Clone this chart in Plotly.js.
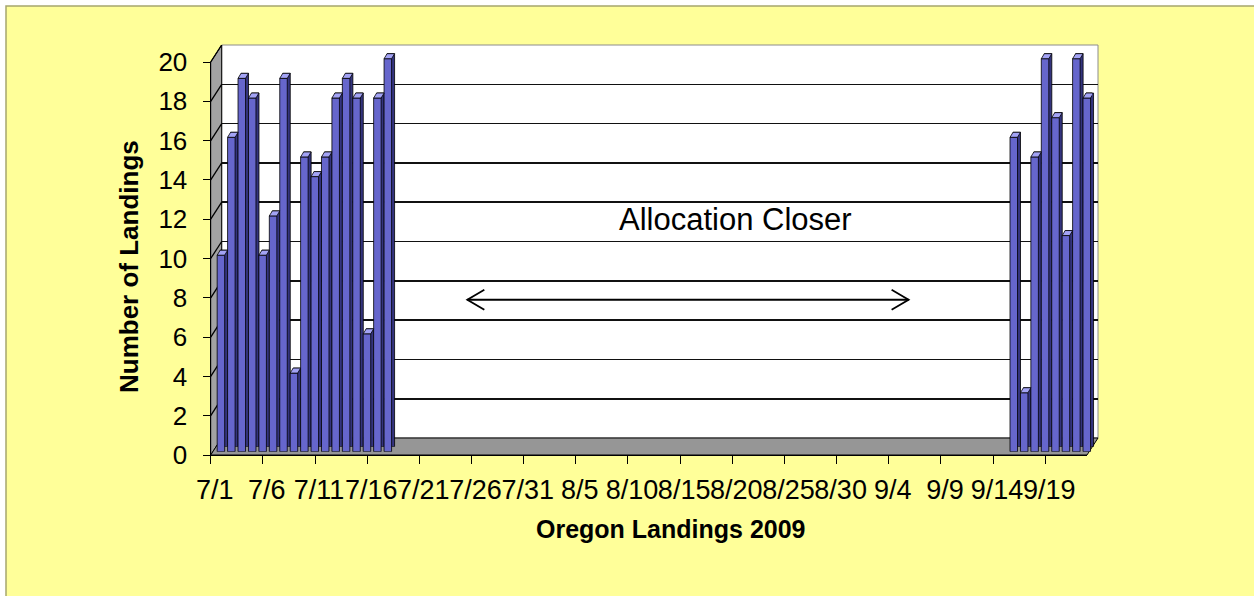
<!DOCTYPE html>
<html>
<head>
<meta charset="utf-8">
<script src="https://cdn.plot.ly/plotly-3.0.1.min.js"></script>
<style>
html,body{margin:0;padding:0;background:#ffffff;}
#chart{width:1254px;height:596px;}
</style>
</head>
<body>
<div id="chart"></div>
<script>
// ---------------- DATA ----------------
const dates = [
  "7/1","7/2","7/3","7/4","7/5","7/6","7/7","7/8","7/9","7/10",
  "7/11","7/12","7/13","7/14","7/15","7/16","7/17","7/18","7/19","7/20",
  "7/21","7/22","7/23","7/24","7/25","7/26","7/27","7/28","7/29","7/30","7/31",
  "8/1","8/2","8/3","8/4","8/5","8/6","8/7","8/8","8/9","8/10",
  "8/11","8/12","8/13","8/14","8/15","8/16","8/17","8/18","8/19","8/20",
  "8/21","8/22","8/23","8/24","8/25","8/26","8/27","8/28","8/29","8/30","8/31",
  "9/1","9/2","9/3","9/4","9/5","9/6","9/7","9/8","9/9","9/10",
  "9/11","9/12","9/13","9/14","9/15","9/16","9/17","9/18","9/19","9/20",
  "9/21","9/22"
];
const landings = [
  10,16,19,18,10,12,19,4,15,14,15,18,19,18,6,18,20,   // 7/1 - 7/17
  0,0,0,0,0,0,0,0,0,0,0,0,0,0,                        // 7/18 - 7/31
  0,0,0,0,0,0,0,0,0,0,0,0,0,0,0,0,0,0,0,0,0,0,0,0,0,0,0,0,0,0,0, // August
  0,0,0,0,0,0,0,0,0,0,0,0,0,0,                        // 9/1 - 9/14
  16,3,15,20,17,11,20,18                              // 9/15 - 9/22
];
const tickLabels = ["7/1","7/6","7/11","7/16","7/21","7/26","7/31","8/5","8/10",
  "8/15","8/20","8/25","8/30","9/4","9/9","9/14","9/19"];
const yTicks = [0,2,4,6,8,10,12,14,16,18,20];
const chartTitleX = "Oregon Landings 2009";
const chartTitleY = "Number of Landings";
const noteText = "Allocation Closer";

// ---------------- GEOMETRY (layout only) ----------------
const FIG_W = 1254, FIG_H = 596;
const L = 200, R = 1110, T = 30, B = 470;
const W = R - L, H = B - T;
const fx = p => (p - L) / W;
const fy = p => (B - p) / H;
const FX0 = 210.7, FX1 = 1087, FY0 = 455, FY1 = 62;   // front plane
const DX = 11, DY = 17;                               // chart depth
const BAR_DX = 5, BAR_DY = 3.3;                       // bar front face offset
const SIDE_DX = 3, SIDE_DY = 5;                       // bar depth
const YMAX = yTicks[yTicks.length - 1];
const PPU = (FY0 - FY1) / YMAX;                       // pixels per unit
const BAR_YMAX = 21;
const BAR_W = 0.72;
const CAT_PX = (FX1 - FX0) / dates.length;
const HW = BAR_W * CAT_PX / 2;
const FONT = "'Liberation Sans', Arial, sans-serif";

const xRange = [-0.5, dates.length - 0.5];
const tickVals = tickLabels.map(t => dates.indexOf(t) - 0.5);
// days without landings are drawn as empty (no bar)
const barValues = landings.map(v => (v > 0 ? v : null));

// ---------------- TRACES ----------------
const sideTrace = {
  type: 'bar', x: dates, y: barValues, xaxis: 'x3', yaxis: 'y3',
  width: BAR_W, marker: {color: '#34347e', line: {color: '#000000', width: 0.8}},
  hoverinfo: 'skip', showlegend: false
};
const frontTrace = {
  type: 'bar', x: dates, y: barValues, xaxis: 'x4', yaxis: 'y4',
  width: BAR_W, marker: {color: '#6666cc', line: {color: '#000000', width: 0.8}},
  showlegend: false
};
const dummyBack = {type: 'scatter', x: [], y: [], xaxis: 'x2', yaxis: 'y2', showlegend: false};
const dummyFront = {type: 'scatter', x: [], y: [], xaxis: 'x', yaxis: 'y', showlegend: false};

// ---------------- SHAPES ----------------
const shapes = [];
// yellow chart area
shapes.push({type: 'rect', xref: 'paper', yref: 'paper', layer: 'below',
  x0: fx(6), x1: fx(FIG_W + 10), y0: fy(6), y1: fy(FIG_H + 10),
  fillcolor: '#ffff99', line: {color: '#a6a66e', width: 1.5}});
// back wall
shapes.push({type: 'rect', xref: 'paper', yref: 'paper', layer: 'below',
  x0: fx(FX0 + DX), x1: fx(FX1 + DX), y0: fy(FY0 - DY), y1: fy(FY1 - DY),
  fillcolor: '#ffffff', line: {color: '#8c8c8c', width: 1}});
// left side wall
const P = (px, py) => fx(px) + ',' + fy(py);
shapes.push({type: 'path', xref: 'paper', yref: 'paper', layer: 'below',
  path: 'M' + P(FX0, FY0) + ' L' + P(FX0, FY1) + ' L' + P(FX0 + DX, FY1 - DY) +
        ' L' + P(FX0 + DX, FY0 - DY) + ' Z',
  fillcolor: '#a3a3a3', line: {color: '#000000', width: 1}});
// floor
shapes.push({type: 'path', xref: 'paper', yref: 'paper', layer: 'below',
  path: 'M' + P(FX0, FY0) + ' L' + P(FX1, FY0) + ' L' + P(FX1 + DX, FY0 - DY) +
        ' L' + P(FX0 + DX, FY0 - DY) + ' Z',
  fillcolor: '#969696', line: {color: '#000000', width: 1}});
// gridline diagonals across the side wall
yTicks.filter(v => v > 0).forEach(v => {
  shapes.push({type: 'line', xref: 'paper', xsizemode: 'pixel', xanchor: fx(FX0 + DX),
    x0: -DX, x1: 0, yref: 'y2', ysizemode: 'pixel', yanchor: v, y0: -DY, y1: 0,
    layer: 'below', line: {color: '#000000', width: 1.3}});
});
// bar top faces
landings.forEach((v, i) => {
  if (v > 0) {
    shapes.push({type: 'path', xref: 'x4', yref: 'y4',
      xsizemode: 'pixel', ysizemode: 'pixel', xanchor: i, yanchor: v,
      path: 'M' + (-HW) + ',0 L' + HW + ',0 L' + (HW + SIDE_DX) + ',' + SIDE_DY +
            ' L' + (-HW + SIDE_DX) + ',' + SIDE_DY + ' Z',
      fillcolor: '#a3a3f5', line: {color: '#000000', width: 0.8}});
  }
});
// double-headed arrow for the closure period
const arrowY = 7.9, arrowX0 = 24.1, arrowX1 = 66.4;
shapes.push({type: 'line', xref: 'x', yref: 'y', x0: arrowX0, x1: arrowX1,
  y0: arrowY, y1: arrowY, line: {color: '#000000', width: 1.8}});
shapes.push({type: 'path', xref: 'x', yref: 'y', xsizemode: 'pixel', ysizemode: 'pixel',
  xanchor: arrowX0, yanchor: arrowY, path: 'M17,10 L0,0 L17,-10',
  fillcolor: 'rgba(0,0,0,0)', line: {color: '#000000', width: 1.8}});
shapes.push({type: 'path', xref: 'x', yref: 'y', xsizemode: 'pixel', ysizemode: 'pixel',
  xanchor: arrowX1, yanchor: arrowY, path: 'M-17,10 L0,0 L-17,-10',
  fillcolor: 'rgba(0,0,0,0)', line: {color: '#000000', width: 1.8}});

// ---------------- ANNOTATIONS ----------------
const annotations = [
  {xref: 'paper', yref: 'paper', x: fx(735), y: fy(220), text: noteText, showarrow: false,
   xanchor: 'center', yanchor: 'middle', font: {family: FONT, size: 31, color: '#000000'}},
  {xref: 'paper', yref: 'paper', x: fx(671), y: fy(529), text: '<b>' + chartTitleX + '</b>',
   showarrow: false, xanchor: 'center', yanchor: 'middle',
   font: {family: FONT, size: 25, color: '#000000'}},
  {xref: 'paper', yref: 'paper', x: fx(129), y: fy(267), text: '<b>' + chartTitleY + '</b>',
   showarrow: false, textangle: -90, xanchor: 'center', yanchor: 'middle',
   font: {family: FONT, size: 26, color: '#000000'}}
];

// ---------------- LAYOUT ----------------
const hidden = {visible: false, fixedrange: true};
const layout = {
  width: FIG_W, height: FIG_H, autosize: false,
  margin: {l: L, r: FIG_W - R, t: T, b: FIG_H - B, pad: 0},
  paper_bgcolor: '#ffffff', plot_bgcolor: 'rgba(0,0,0,0)',
  showlegend: false, bargap: 0,
  font: {family: FONT, color: '#000000'},
  xaxis: {domain: [fx(FX0), fx(FX1)], anchor: 'y', type: 'linear', range: xRange,
    tickmode: 'array', tickvals: tickVals, ticktext: tickLabels, tickangle: 0,
    ticks: 'outside', ticklen: 8, tickwidth: 1, tickcolor: '#000000',
    ticklabelshift: 4, ticklabelstandoff: 2,
    showline: true, linecolor: '#000000', linewidth: 1.2,
    showgrid: false, zeroline: false, tickfont: {family: FONT, size: 27, color: '#000000'}},
  yaxis: {domain: [fy(FY0), fy(FY1)], anchor: 'x', range: [0, YMAX],
    tickmode: 'array', tickvals: yTicks, ticktext: yTicks.map(String),
    ticks: 'outside', ticklen: 7, tickwidth: 1, tickcolor: '#000000', ticklabelstandoff: 10,
    showline: true, linecolor: '#000000', linewidth: 1.2,
    showgrid: false, zeroline: false, tickfont: {family: FONT, size: 26, color: '#000000'}},
  xaxis2: Object.assign({}, hidden, {domain: [fx(FX0 + DX), fx(FX1 + DX)], anchor: 'y2', range: xRange}),
  yaxis2: {domain: [fy(FY0 - DY), fy(FY1 - DY)], anchor: 'x2', range: [0, YMAX],
    tickmode: 'array', tickvals: yTicks, showticklabels: false, ticks: '',
    showgrid: true, gridcolor: '#111111', gridwidth: 1.6, zeroline: false, showline: false},
  xaxis3: Object.assign({}, hidden, {type: 'category', anchor: 'y3', range: xRange,
    domain: [fx(FX0 + BAR_DX + SIDE_DX), fx(FX1 + BAR_DX + SIDE_DX)]}),
  yaxis3: Object.assign({}, hidden, {anchor: 'x3', range: [0, BAR_YMAX],
    domain: [fy(FY0 - BAR_DY - SIDE_DY), fy(FY0 - BAR_DY - SIDE_DY - BAR_YMAX * PPU)]}),
  xaxis4: Object.assign({}, hidden, {type: 'category', anchor: 'y4', range: xRange,
    domain: [fx(FX0 + BAR_DX), fx(FX1 + BAR_DX)]}),
  yaxis4: Object.assign({}, hidden, {anchor: 'x4', range: [0, BAR_YMAX],
    domain: [fy(FY0 - BAR_DY), fy(FY0 - BAR_DY - BAR_YMAX * PPU)]}),
  shapes: shapes,
  annotations: annotations
};

Plotly.newPlot('chart', [dummyFront, dummyBack, sideTrace, frontTrace], layout,
  {displayModeBar: false, staticPlot: true});
</script>
</body>
</html>
